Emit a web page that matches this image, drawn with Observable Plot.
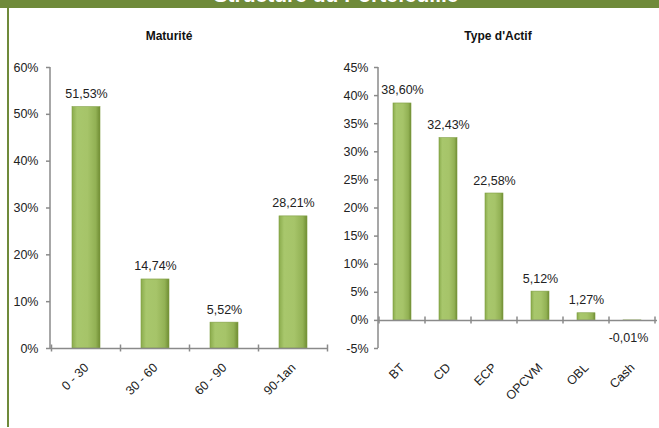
<!DOCTYPE html>
<html>
<head>
<meta charset="utf-8">
<script src="https://cdn.jsdelivr.net/npm/d3@7"></script>
<script src="https://cdn.jsdelivr.net/npm/@observablehq/plot@0.6"></script>
<style>
  html, body { margin: 0; padding: 0; background: #fff; }
  #wrap { position: relative; width: 659px; height: 428px; overflow: hidden; background: #fff; font-family: "Liberation Sans", Arial, sans-serif; }
  #header { position: absolute; left: 0; top: 0; width: 659px; height: 8px; background: #6f8a3a; overflow: hidden; }
  #header span { position: absolute; left: 0; width: 672px; text-align: center; top: -15px; line-height: 20px; font-size: 21px; font-weight: bold; color: #fff; white-space: nowrap; }
  #border { position: absolute; left: 7px; top: 0; width: 2px; height: 427px; background: #6f8a3a; }
  .ttl { position: absolute; top: 29px; font-size: 12px; font-weight: bold; color: #111; text-align: center; }
  .chart { position: absolute; top: 0; }
</style>
</head>
<body>
<div id="wrap">
  <div id="header"><span>Structure du Portefeuille</span></div>
  <div id="border"></div>
  <div class="ttl" style="left:119px;width:100px;">Maturité</div>
  <div class="ttl" style="left:448px;width:100px;">Type d'Actif</div>
  <div id="left" class="chart" style="left:0px;"></div>
  <div id="right" class="chart" style="left:330px;"></div>
</div>
<script>
// ---- data ----
const maturiteCats = ["0 - 30", "30 - 60", "60 - 90", "90-1an"];
const maturiteVals = [51.53, 14.74, 5.52, 28.21];
const maturiteTicks = [0, 10, 20, 30, 40, 50, 60];

const actifCats = ["BT", "CD", "ECP", "OPCVM", "OBL", "Cash"];
const actifVals = [38.60, 32.43, 22.58, 5.12, 1.27, -0.01];
const actifTicks = [-5, 0, 5, 10, 15, 20, 25, 30, 35, 40, 45];

const fmt = v => v.toFixed(2).replace(".", ",") + "%";
const axisColor = "#8a8a8a";

// custom mark: y axis line + category boundary ticks on the zero line
function axisLines(cats) {
  return (index, scales, values, dimensions) => {
    const x = scales.x, y = scales.y;
    const g = d3.create("svg:g");
    const yd = y.domain ? y.domain() : [0, 1];
    const x0 = dimensions.marginLeft;
    g.append("line")
      .attr("x1", x0).attr("x2", x0)
      .attr("y1", y(d3.max(yd))).attr("y2", y(d3.min(yd)))
      .attr("stroke", axisColor).attr("stroke-width", 1.5);
    const step = x.step ? x.step() : (dimensions.width - dimensions.marginLeft - dimensions.marginRight) / cats.length;
    const starts = cats.map(c => x(c) - (x.step ? (x.step() - x.bandwidth()) / 2 : 0));
    const bounds = [...starts, starts[starts.length - 1] + step];
    const y0 = y(0);
    for (const b of bounds) {
      g.append("line")
        .attr("x1", b).attr("x2", b)
        .attr("y1", y0 - 3.5).attr("y2", y0 + 3.5)
        .attr("stroke", axisColor).attr("stroke-width", 1.5);
    }
    return g.node();
  };
}

function addGradient(svg) {
  const defs = d3.select(svg).insert("defs", ":first-child");
  const lg = defs.append("linearGradient").attr("id", "barGrad").attr("x1", "0").attr("x2", "1").attr("y1", "0").attr("y2", "0");
  [["0%", "#8aab4c"], ["18%", "#a8c76c"], ["55%", "#a6c469"], ["85%", "#92b154"], ["100%", "#6f8c33"]]
    .forEach(([o, c]) => lg.append("stop").attr("offset", o).attr("stop-color", c));
}

function makeChart(cats, vals, ticks, opts) {
  const data = cats.map((c, i) => ({cat: c, v: vals[i]}));
  const svg = Plot.plot({
    width: opts.width,
    height: 428,
    marginLeft: opts.marginLeft,
    marginRight: opts.marginRight,
    marginTop: 67,
    marginBottom: 80,
    style: {fontFamily: "'Liberation Sans', Arial, sans-serif", fontSize: "12.5px", color: "#222", background: "transparent", overflow: "visible"},
    x: {domain: cats, paddingInner: 0.6, paddingOuter: 0.3, label: null},
    y: {domain: [d3.min(ticks), d3.max(ticks)], label: null},
    marks: [
      Plot.axisY({ticks: ticks, tickFormat: d => d + "%", tickSize: 4, tickPadding: opts.tickPadding, stroke: axisColor, strokeWidth: 1.5, fontSize: 12.5, fill: "#222"}),
      Plot.axisX({tickSize: 0, tickRotate: -45, tickPadding: 17, fontSize: 12.5, fill: "#222"}),
      Plot.barY(data, {x: "cat", y: "v", fill: "url(#barGrad)", stroke: "#7f9e42", strokeWidth: 0.6}),
      Plot.ruleY([0], {stroke: axisColor, strokeWidth: 1.5}),
      axisLines(cats),
      Plot.text(data.filter(d => d.v >= 0), {x: "cat", y: "v", text: d => fmt(d.v), dy: -13, fontSize: 12.5, fill: "#222"}),
      Plot.text(data.filter(d => d.v < 0), {x: "cat", y: "v", text: d => fmt(d.v), dy: 18, dx: -4, fontSize: 12.5, fill: "#222"})
    ]
  });
  addGradient(svg);
  return svg;
}

document.getElementById("left").appendChild(
  makeChart(maturiteCats, maturiteVals, maturiteTicks, {width: 330, marginLeft: 50, marginRight: 2, tickPadding: 8})
);
document.getElementById("right").appendChild(
  makeChart(actifCats, actifVals, actifTicks, {width: 329, marginLeft: 48, marginRight: 2, tickPadding: 6})
);
</script>
</body>
</html>
